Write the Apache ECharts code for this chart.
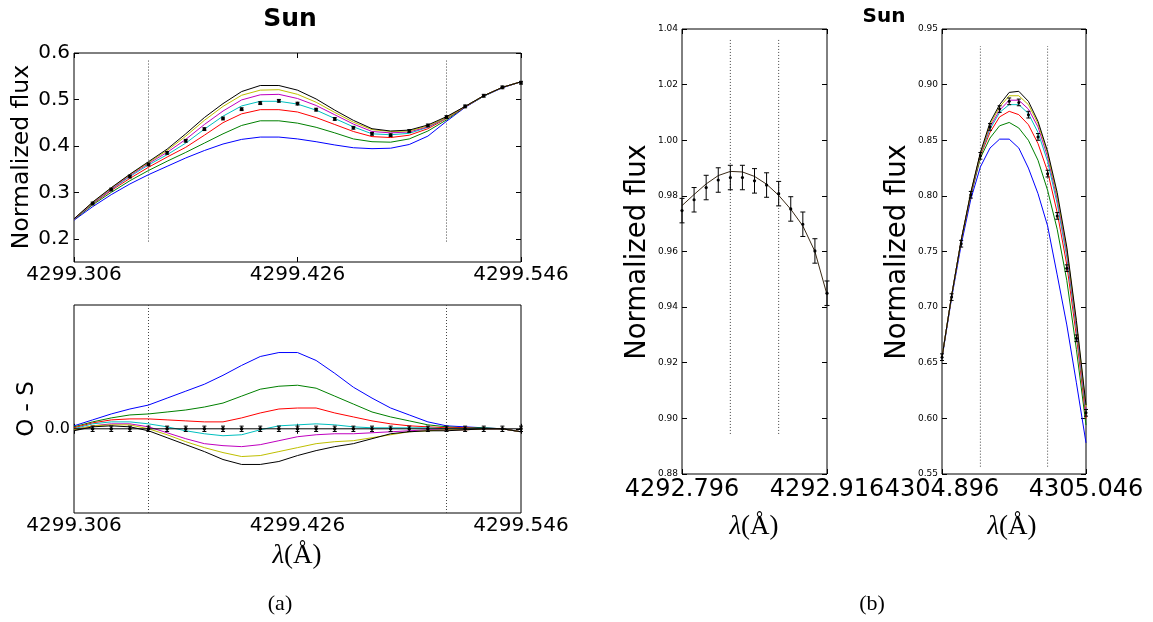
<!DOCTYPE html>
<html><head><meta charset="utf-8">
<script src="https://cdn.jsdelivr.net/npm/echarts@6/dist/echarts.min.js"></script>
<style>html,body{margin:0;padding:0;background:#fff}#c{width:1153px;height:622px}</style>
</head><body><div id="c"></div>
<script>
// ---------- Panel (a): 4299 Å line ----------
const wlA = [4299.306,4299.316,4299.326,4299.336,4299.346,4299.356,4299.366,4299.376,4299.386,4299.396,4299.406,4299.416,4299.426,4299.436,4299.446,4299.456,4299.466,4299.476,4299.486,4299.496,4299.506,4299.516,4299.526,4299.536,4299.546];
const topBlue    = [0.240,0.269,0.295,0.318,0.338,0.356,0.374,0.390,0.404,0.414,0.419,0.419,0.415,0.409,0.402,0.396,0.394,0.395,0.403,0.421,0.453,0.483,0.507,0.525,0.538];
const topGreen   = [0.241,0.273,0.300,0.325,0.347,0.367,0.386,0.406,0.426,0.444,0.454,0.454,0.449,0.440,0.428,0.415,0.409,0.408,0.415,0.432,0.456,0.484,0.507,0.526,0.538];
const topRed     = [0.242,0.275,0.304,0.330,0.354,0.376,0.397,0.423,0.450,0.469,0.478,0.478,0.473,0.461,0.446,0.431,0.420,0.418,0.423,0.437,0.459,0.484,0.508,0.526,0.538];
const topCyan    = [0.242,0.276,0.306,0.334,0.359,0.381,0.406,0.436,0.464,0.486,0.496,0.496,0.490,0.477,0.459,0.441,0.426,0.424,0.427,0.440,0.460,0.485,0.508,0.526,0.538];
const topMagenta = [0.242,0.277,0.307,0.336,0.362,0.386,0.414,0.446,0.475,0.499,0.510,0.511,0.502,0.487,0.467,0.447,0.431,0.428,0.430,0.441,0.461,0.485,0.508,0.526,0.538];
const topYellow  = [0.243,0.278,0.309,0.338,0.364,0.390,0.421,0.455,0.485,0.509,0.520,0.521,0.511,0.494,0.472,0.451,0.435,0.431,0.432,0.443,0.461,0.485,0.508,0.526,0.538];
const topBlack   = [0.243,0.279,0.310,0.339,0.366,0.393,0.426,0.461,0.491,0.517,0.530,0.530,0.520,0.501,0.477,0.455,0.437,0.432,0.434,0.445,0.463,0.485,0.508,0.526,0.538];
const topObs     = [null,0.276,0.306,0.334,0.360,0.385,0.411,0.436,0.459,0.479,0.492,0.497,0.491,0.478,0.458,0.439,0.426,0.423,0.432,0.444,0.462,0.485,0.508,0.526,0.536];
const topErr = 0.003;

const botBlue    = [0.003,0.009,0.015,0.020,0.024,0.031,0.038,0.045,0.054,0.064,0.073,0.077,0.077,0.069,0.056,0.042,0.031,0.021,0.014,0.007,0.003,0.002,0.001,0.000,-0.003];
const botGreen   = [0.002,0.007,0.011,0.014,0.015,0.017,0.019,0.022,0.026,0.033,0.040,0.043,0.044,0.041,0.033,0.025,0.017,0.012,0.008,0.004,0.002,0.001,0.001,0.000,-0.003];
const botRed     = [0.001,0.006,0.009,0.010,0.010,0.009,0.008,0.007,0.007,0.011,0.016,0.020,0.021,0.021,0.016,0.012,0.008,0.005,0.003,0.002,0.001,0.001,0.000,0.000,-0.003];
const botCyan    = [0.000,0.005,0.007,0.007,0.005,0.002,-0.002,-0.005,-0.007,-0.006,-0.001,0.003,0.004,0.005,0.004,0.002,0.001,0.001,0.001,0.001,0.000,0.000,0.000,0.000,-0.003];
const botMagenta = [-0.001,0.003,0.005,0.005,0.002,-0.004,-0.010,-0.015,-0.017,-0.018,-0.016,-0.012,-0.008,-0.006,-0.005,-0.005,-0.004,-0.003,-0.002,-0.001,-0.001,-0.001,0.000,0.000,-0.003];
const botYellow  = [-0.001,0.003,0.004,0.004,0.000,-0.006,-0.013,-0.019,-0.024,-0.028,-0.027,-0.023,-0.019,-0.015,-0.013,-0.012,-0.009,-0.006,-0.003,-0.002,-0.001,-0.001,0.000,0.000,-0.003];
const botBlack   = [-0.002,0.002,0.003,0.002,-0.002,-0.009,-0.016,-0.023,-0.031,-0.036,-0.036,-0.033,-0.027,-0.022,-0.018,-0.015,-0.010,-0.005,-0.003,-0.002,-0.002,-0.001,0.000,0.000,-0.003];
const botObs     = [0,0,0,0,0,0,0,0,0,0,0,0,0,0,0,0,0,0,0,0,0,0,0,0,0];
const botObsPts  = [null,0,0,0,0,0,0,0,0,0,0,0,0,0,0,0,0,0,0,0,0,0,0,0,0];
const botErr = 0.0027;

const xTicksA = [4299.306, 4299.426, 4299.546];
const yTicksA = [0.2, 0.3, 0.4, 0.5, 0.6];
const yTicksAres = [0.0];
const dotA = [4299.346, 4299.506];
const dotAY = [0.194, 0.584];
const dotAresY = [-0.085, 0.125];

// ---------- Panel (b) left: 4292 Å ----------
const wlB1 = [4292.796,4292.806,4292.816,4292.826,4292.836,4292.846,4292.856,4292.866,4292.876,4292.886,4292.896,4292.906,4292.916];
const modelB1 = [0.9765,0.9805,0.9843,0.9873,0.9888,0.9886,0.9870,0.9842,0.9802,0.9752,0.9692,0.9600,0.9445];
const obsB1   = [0.9747,0.9786,0.9830,0.9857,0.9866,0.9866,0.9854,0.9839,0.9808,0.9753,0.9698,0.9602,0.9450];
const errB1 = 0.0044;
const xTicksB1 = [4292.796, 4292.916];
const yTicksB1 = [0.88,0.90,0.92,0.94,0.96,0.98,1.00,1.02,1.04];
const dotB1 = [4292.836, 4292.876];
const dotB1Y = [0.8944, 1.0364];

// ---------- Panel (b) right: 4305 Å ----------
const wlB2 = [4304.896,4304.906,4304.916,4304.926,4304.936,4304.946,4304.956,4304.966,4304.976,4304.986,4304.996,4305.006,4305.016,4305.026,4305.036,4305.046];
const b2Blue    = [0.654,0.708,0.756,0.797,0.826,0.843,0.851,0.851,0.843,0.825,0.802,0.773,0.729,0.684,0.632,0.578];
const b2Green   = [0.655,0.710,0.760,0.800,0.834,0.852,0.863,0.866,0.861,0.850,0.832,0.805,0.770,0.724,0.662,0.594];
const b2Red     = [0.655,0.710,0.760,0.801,0.836,0.857,0.871,0.876,0.873,0.864,0.847,0.822,0.785,0.738,0.674,0.600];
const b2Cyan    = [0.655,0.710,0.760,0.802,0.837,0.860,0.875,0.882,0.882,0.874,0.857,0.831,0.793,0.745,0.680,0.604];
const b2Magenta = [0.655,0.710,0.760,0.802,0.838,0.862,0.877,0.886,0.886,0.878,0.862,0.835,0.797,0.749,0.683,0.607];
const b2Yellow  = [0.655,0.710,0.760,0.803,0.838,0.864,0.880,0.890,0.890,0.882,0.865,0.838,0.800,0.752,0.686,0.610];
const b2Black   = [0.655,0.710,0.760,0.803,0.839,0.866,0.882,0.893,0.894,0.885,0.867,0.840,0.803,0.754,0.688,0.612];
const b2Obs     = [0.655,0.709,0.757,0.801,0.836,0.862,0.878,0.885,0.884,0.873,0.853,0.820,0.782,0.735,0.672,0.605];
const errB2 = 0.003;
const xTicksB2 = [4304.896, 4305.046];
const yTicksB2 = [0.55,0.60,0.65,0.70,0.75,0.80,0.85,0.90,0.95];
const dotB2 = [4304.936, 4305.006];
const dotB2Y = [0.5566, 0.9347];

// ---------- styling ----------
const COLORS = {b:'#0000ff', g:'#008000', r:'#ff0000', c:'#00bfbf', m:'#bf00bf', y:'#bfbf00', k:'#000000'};
const SANS = '"DejaVu Sans"';
const SERIF = '"Liberation Serif"';

function xAxes(grid, min, max, ticks, fs, margin) {
  const base = {type:'value', gridIndex:grid, min:min, max:max, splitLine:{show:false},
    axisLine:{show:false}};
  return [
    Object.assign({}, base, {position:'bottom',
      axisTick:{show:true, inside:true, length:5, customValues:ticks, lineStyle:{color:'#000'}},
      axisLabel:{show:true, customValues:ticks, formatter:v=>v.toFixed(3), fontSize:fs, color:'#000', fontFamily:SANS, margin:margin}}),
    Object.assign({}, base, {position:'top',
      axisTick:{show:true, inside:true, length:5, customValues:ticks, lineStyle:{color:'#000'}},
      axisLabel:{show:false}})
  ];
}
function yAxes(grid, min, max, ticks, fs, margin, digits) {
  const base = {type:'value', gridIndex:grid, min:min, max:max, splitLine:{show:false},
    axisLine:{show:false}};
  return [
    Object.assign({}, base, {position:'left',
      axisTick:{show:true, inside:true, length:5, customValues:ticks, lineStyle:{color:'#000'}},
      axisLabel:{show:true, customValues:ticks, formatter:v=>v.toFixed(digits), fontSize:fs, color:'#000', fontFamily:SANS, margin:margin}}),
    Object.assign({}, base, {position:'right',
      axisTick:{show:true, inside:true, length:5, customValues:ticks, lineStyle:{color:'#000'}},
      axisLabel:{show:false}})
  ];
}

function lineSeries(ax, xs, ys, color, z) {
  return {type:'line', xAxisIndex:ax, yAxisIndex:ax, data:xs.map((x,i)=>[x, ys[i]]),
    symbol:'none', lineStyle:{color:color, width:1}, z:z||2, silent:true, clip:true};
}
function errRender(cap, r) {
  return function(params, api) {
    const x = api.value(0), y = api.value(1), e = api.value(2);
    const p = api.coord([x, y]), t = api.coord([x, y + e]), b = api.coord([x, y - e]);
    const st = {stroke:'#000', lineWidth:1};
    return {type:'group', children:[
      {type:'line', shape:{x1:p[0], y1:t[1], x2:p[0], y2:b[1]}, style:st},
      {type:'line', shape:{x1:p[0]-cap, y1:t[1], x2:p[0]+cap, y2:t[1]}, style:st},
      {type:'line', shape:{x1:p[0]-cap, y1:b[1], x2:p[0]+cap, y2:b[1]}, style:st},
      {type:'circle', shape:{cx:p[0], cy:p[1], r:r}, style:{fill:'#000'}}
    ]};
  };
}
function errSeries(ax, xs, ys, err, cap, r) {
  const data = [];
  xs.forEach((x,i)=>{ if (ys[i] !== null) data.push([x, ys[i], err]); });
  return {type:'custom', xAxisIndex:ax, yAxisIndex:ax, data:data, renderItem:errRender(cap, r),
    encode:{x:0, y:1}, z:5, silent:true, clip:false};
}
function dotSeries(ax, xs, yr) {
  return xs.map(x => ({type:'line', xAxisIndex:ax, yAxisIndex:ax, data:[[x, yr[0]], [x, yr[1]]],
    symbol:'none', lineStyle:{color:'#444', width:1, type:[1,2]}, z:1, silent:true}));
}

const grids = [
  {left:74, top:53, width:447, height:209},
  {left:74, top:305, width:447, height:208},
  {left:682, top:29, width:145, height:445},
  {left:942, top:29, width:144, height:445}
].map(g => Object.assign(g, {show:true, borderColor:'#000', borderWidth:1, backgroundColor:'transparent', containLabel:false}));

const xAxis = [].concat(
  xAxes(0, 4299.306, 4299.546, xTicksA, 20, 3),
  xAxes(1, 4299.306, 4299.546, xTicksA, 20, 3),
  xAxes(2, 4292.796, 4292.916, xTicksB1, 24, 4),
  xAxes(3, 4304.896, 4305.046, xTicksB2, 24, 4)
);
const yAxis = [].concat(
  yAxes(0, 0.15, 0.6, yTicksA, 20, 4, 1),
  yAxes(1, -0.085, 0.125, yTicksAres, 16, 4, 1),
  yAxes(2, 0.88, 1.04, yTicksB1, 9, 4, 2),
  yAxes(3, 0.55, 0.95, yTicksB2, 9, 4, 2)
);
const series = [];
function addModels(ax, xs, sets) {
  sets.forEach(([arr, c]) => series.push(lineSeries(ax, xs, arr, COLORS[c])));
}
addModels(0, wlA, [[topBlue,'b'],[topGreen,'g'],[topRed,'r'],[topCyan,'c'],[topMagenta,'m'],[topYellow,'y'],[topBlack,'k']]);
series.push(errSeries(0, wlA, topObs, topErr, 2, 1.8));
dotSeries(0, dotA, dotAY).forEach(s => series.push(s));

addModels(2, wlA, [[botBlue,'b'],[botGreen,'g'],[botRed,'r'],[botCyan,'c'],[botMagenta,'m'],[botYellow,'y'],[botBlack,'k']]);
series.push(lineSeries(2, wlA, botObs, '#000', 4));
series.push(errSeries(2, wlA, botObsPts, botErr, 2, 1.8));
dotSeries(2, dotA, dotAresY).forEach(s => series.push(s));

series.push(lineSeries(4, wlB1, modelB1, '#3a2a16'));
series.push(errSeries(4, wlB1, obsB1, errB1, 2.5, 1.6));
dotSeries(4, dotB1, dotB1Y).forEach(s => series.push(s));

addModels(6, wlB2, [[b2Blue,'b'],[b2Green,'g'],[b2Red,'r'],[b2Cyan,'c'],[b2Magenta,'m'],[b2Yellow,'y'],[b2Black,'k']]);
series.push(errSeries(6, wlB2, b2Obs, errB2, 2, 1.5));
dotSeries(6, dotB2, dotB2Y).forEach(s => series.push(s));

function rtext(x, y, txt, fs, extra) {
  return {type:'text', x:x, y:y, rotation:Math.PI/2, silent:true,
    style:Object.assign({text:txt, fontSize:fs, fontFamily:SANS, fill:'#000', align:'center', verticalAlign:'middle'}, extra||{})};
}
function ttext(x, y, txt, fs, extra) {
  return {type:'text', x:x, y:y, silent:true,
    style:Object.assign({text:txt, fontSize:fs, fontFamily:SANS, fill:'#000', align:'center', verticalAlign:'middle'}, extra||{})};
}
function lambda(x, y) {
  return {type:'text', x:x, y:y, silent:true, style:{text:'{i|λ}{n|(Å)}', align:'center', verticalAlign:'middle',
    rich:{i:{fontFamily:SERIF, fontStyle:'italic', fontSize:27, fill:'#000'}, n:{fontFamily:SERIF, fontSize:27, fill:'#000'}}}};
}
const graphic = [
  ttext(290, 19, 'Sun', 25, {fontWeight:'bold'}),
  ttext(884, 17, 'Sun', 20, {fontWeight:'bold'}),
  rtext(22, 157, 'Normalized flux', 23.5),
  rtext(27, 409, 'O - S', 23),
  rtext(638, 252, 'Normalized flux', 27.5),
  rtext(898, 252, 'Normalized flux', 27.5),
  lambda(297, 556),
  lambda(754, 527),
  lambda(1012, 527),
  ttext(280, 604, '(a)', 22, {fontFamily:SERIF}),
  ttext(872, 604, '(b)', 22, {fontFamily:SERIF})
];

const chart = echarts.init(document.getElementById('c'));
chart.setOption({animation:false, backgroundColor:'#fff', grid:grids, xAxis:xAxis, yAxis:yAxis, series:series, graphic:graphic});
</script></body></html>
